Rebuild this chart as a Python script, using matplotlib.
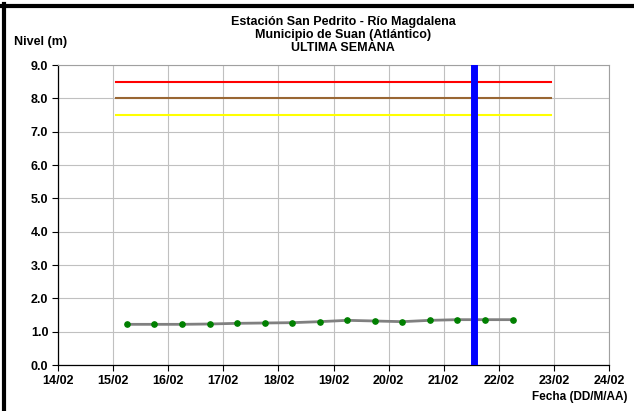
import matplotlib
matplotlib.use("Agg")
import matplotlib.pyplot as plt
from matplotlib.lines import Line2D

# ---- data ----
day_ticks = [14, 15, 16, 17, 18, 19, 20, 21, 22, 23, 24]
day_labels = ["14/02", "15/02", "16/02", "17/02", "18/02", "19/02",
              "20/02", "21/02", "22/02", "23/02", "24/02"]
y_ticks = [0, 1, 2, 3, 4, 5, 6, 7, 8, 9]

obs_days = [15.25, 15.75, 16.25, 16.75, 17.25, 17.75, 18.25, 18.75,
            19.25, 19.75, 20.25, 20.75, 21.25, 21.75, 22.25]
obs_levels = [1.22, 1.22, 1.22, 1.23, 1.25, 1.26, 1.27, 1.30,
              1.34, 1.32, 1.30, 1.34, 1.36, 1.36, 1.36]

alert_start, alert_end = 15.05, 22.95
alert_red = 8.5
alert_orange = 8.0
alert_yellow = 7.5
current_day = 21.55

plt.rcParams['font.family'] = ['Liberation Sans', 'DejaVu Sans']
plt.rcParams['font.weight'] = 'bold'

W, H = 634, 411
fig = plt.figure(figsize=(W / 100, H / 100), dpi=100)
fig.patch.set_facecolor('white')
ax = fig.add_axes([58 / W, 1 - 365 / H, (609 - 58) / W, (365 - 65) / H])

ax.set_xlim(14, 24)
ax.set_ylim(0, 9)
ax.set_xticks(day_ticks)
ax.set_xticklabels(day_labels, fontsize=9, fontweight='bold')
ax.set_yticks(y_ticks)
ax.set_yticklabels([f"{v:.1f}" for v in y_ticks], fontsize=9, fontweight='bold')
ax.tick_params(axis='both', direction='out', length=4, width=0.8, color='black', pad=3)

ax.grid(True, color='#c0c0c0', linewidth=0.8)
ax.set_axisbelow(True)
for s in ['top', 'right']:
    ax.spines[s].set_color('#a0a0a0')
    ax.spines[s].set_linewidth(0.8)
for s in ['left', 'bottom']:
    ax.spines[s].set_color('black')
    ax.spines[s].set_linewidth(0.9)

ax.plot([alert_start, alert_end], [alert_red, alert_red], color='#ff0000', lw=1.5, zorder=3)
ax.plot([alert_start, alert_end], [alert_orange, alert_orange], color='#996633', lw=1.5, zorder=3)
ax.plot([alert_start, alert_end], [alert_yellow, alert_yellow], color='#ffff00', lw=1.5, zorder=3)

ax.plot(obs_days, obs_levels, color='#808080', lw=2, zorder=4)
ax.plot(obs_days, obs_levels, linestyle='none', marker='o', markersize=3.8,
        markerfacecolor='#008000', markeredgecolor='#008000', zorder=5)

ax.axvline(current_day, color='#0000ff', lw=5, zorder=6)

# titles
fig.text(343 / W, 1 - 22 / H, "Estación San Pedrito - Río Magdalena", ha='center', va='center',
         fontsize=9, fontweight='bold')
fig.text(343 / W, 1 - 35 / H, "Municipio de Suan (Atlántico)", ha='center', va='center',
         fontsize=9, fontweight='bold')
fig.text(343 / W, 1 - 48 / H, "ULTIMA SEMANA", ha='center', va='center',
         fontsize=9, fontweight='bold')
fig.text(14 / W, 1 - 42 / H, "Nivel (m)", ha='left', va='center', fontsize=9, fontweight='bold')
fig.text(628 / W, 1 - 397 / H, "Fecha (DD/M/AA)", ha='right', va='center', fontsize=8.5,
         fontweight='bold')

# frame border (left and top)
fig.add_artist(Line2D([4 / W, 4 / W], [0, 1 - 4 / H], transform=fig.transFigure,
                      color='black', lw=3))
fig.add_artist(Line2D([2 / W, 1], [1 - 6 / H, 1 - 6 / H], transform=fig.transFigure,
                      color='black', lw=3))

fig.savefig("out.png", dpi=100)
